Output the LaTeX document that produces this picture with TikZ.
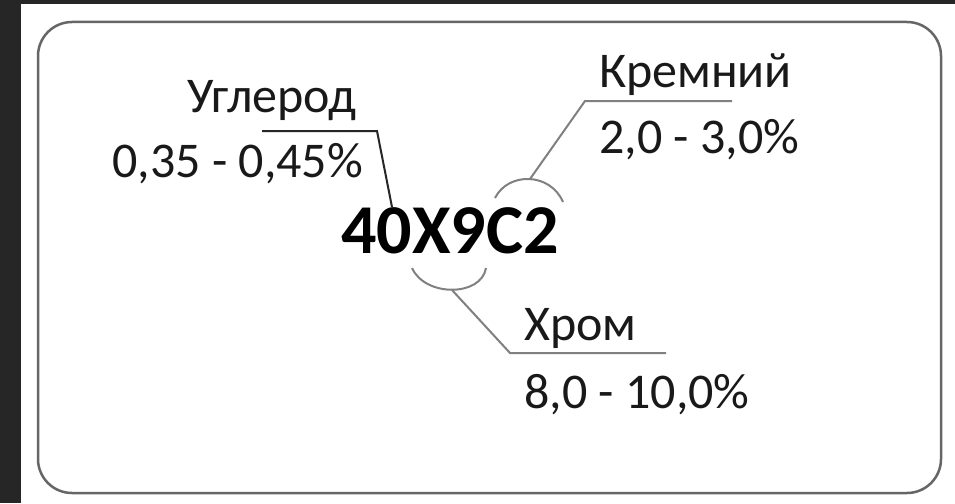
\documentclass[tikz,border=0pt]{standalone}
\usepackage{fontspec}
\setmainfont{Carlito}
\begin{document}
\begin{tikzpicture}[x=1pt,y=-1pt,
  lbl/.style={inner sep=0pt, anchor=base west, font=\fontsize{50}{54}\selectfont, text=black!90},
  grade/.style={inner sep=0pt, anchor=base west, font=\fontsize{70}{74}\selectfont\bfseries, text=black},
  leadA/.style={draw=black!85, line width=2pt},
  leadB/.style={draw=black!50, line width=2pt},
  frame/.style={draw=black!60, line width=2.5pt, rounded corners=34pt}]
\useasboundingbox (0,0) rectangle (955,503);
\fill[white] (0,0) rectangle (955,503);
\fill[black!85] (0,0) rectangle (955,4);
\fill[black!85] (0,0) rectangle (21,503);
\draw[frame] (38,22) rectangle (941,493);
% texts
\node[lbl] (ugl) at (187,112) {Углерод};
\node[lbl] (uglv) at (112,177) {0,35 - 0,45\%};
\node[grade] (grade) at (341,253) {40X9C2};
\node[lbl] (krem) at (599,88) {Кремний};
\node[lbl] (kremv) at (599,153) {2,0 - 3,0\%};
\node[lbl] (hrom) at (524,340) {Хром};
\node[lbl] (hromv) at (524,408) {8,0 - 10,0\%};
% leader coordinates
\coordinate (u1) at (262,131);
\coordinate (u2) at (377,131);
\coordinate (u3) at (392,207);
\coordinate (k0) at (495,198);
\coordinate (k1) at (530,179);
\coordinate (k2) at (563,202);
\coordinate (k3) at (585,101);
\coordinate (k4) at (732,101);
\coordinate (h0) at (412,268);
\coordinate (h1) at (452,290);
\coordinate (h2) at (486,268);
\coordinate (h3) at (510,353);
\coordinate (h4) at (666,353);
% leaders
\draw[leadA] (u1) -- (u2) -- (u3);
\draw[leadB] (k0) .. controls (508,172) and (550,172) .. (k2);
\draw[leadB] (k1) -- (k3) -- (k4);
\draw[leadB] (h0) .. controls (425,297) and (481,297) .. (h2);
\draw[leadB] (h1) -- (h3) -- (h4);
\end{tikzpicture}
\end{document}
